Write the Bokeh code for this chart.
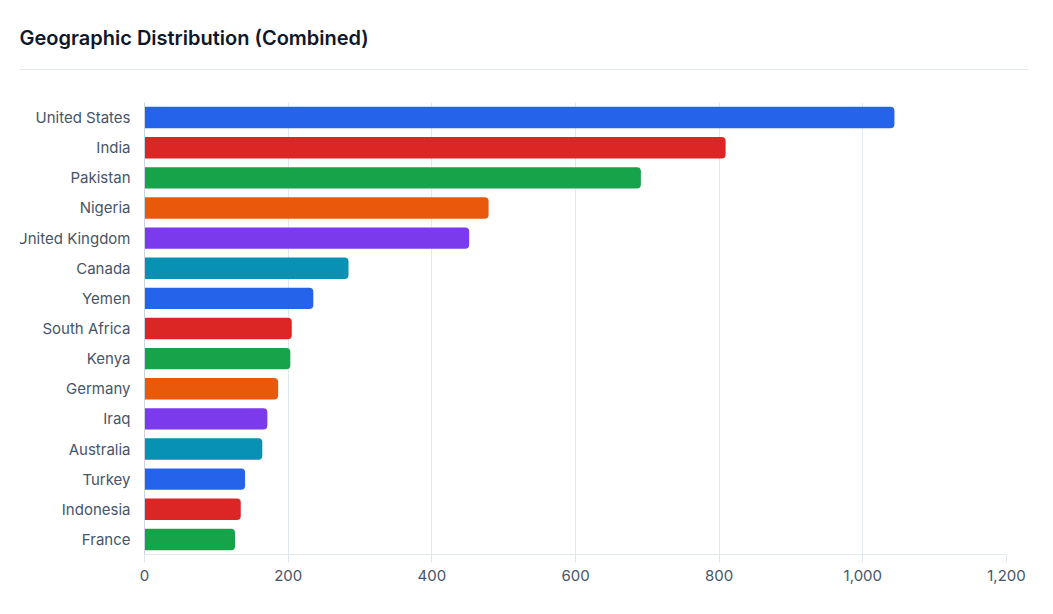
from bokeh.plotting import figure
from bokeh.layouts import column
from bokeh.embed import file_html
from bokeh.resources import INLINE
from bokeh.models import ColumnDataSource, Div, FactorRange, NumeralTickFormatter, Range1d, Title, FixedTicker

countries = ["United States", "India", "Pakistan", "Nigeria", "United Kingdom", "Canada", "Yemen",
             "South Africa", "Kenya", "Germany", "Iraq", "Australia", "Turkey", "Indonesia", "France"]
values = [1044, 809, 691, 479, 452, 284, 235, 205, 203, 186, 171, 164, 140, 134, 126]
palette = ["#2563eb", "#dc2626", "#16a34a", "#ea580c", "#7c3aed", "#0891b2"]
colors = [palette[i % len(palette)] for i in range(len(countries))]
x_ticks = [0, 200, 400, 600, 800, 1000, 1200]
chart_title = "Geographic Distribution (Combined)"

source = ColumnDataSource(dict(country=countries, value=values, color=colors))

p = figure(
    width=1021, height=598, margin=(0, 0, 0, 7),
    y_range=FactorRange(factors=countries[::-1], range_padding=0, factor_padding=0),
    x_range=Range1d(0, 1200),
    output_backend="svg", toolbar_location=None,
    min_border_left=137, min_border_right=22, min_border_top=102, min_border_bottom=44,
    styles={"clip-path": "inset(0 0 0 13px)"},
)
p.outline_line_color = None
p.background_fill_color = "#ffffff"
p.border_fill_color = "#ffffff"

p.hbar(y="country", right="value", left=0, height=0.71, color="color", source=source,
       line_color=None, border_radius=(0, 4, 4, 0))

t = Title(text=chart_title, text_font="Inter SemiBold", text_font_size="20px", text_font_style="normal",
          text_color="#0f172a", align="left", offset=-125, standoff=10, vertical_align="top",
          padding=(0, 0, 0, 46))
p.add_layout(t, "above")

xa = p.xaxis[0]
xa.ticker = FixedTicker(ticks=x_ticks)
xa.formatter = NumeralTickFormatter(format="0,0")
xa.axis_line_color = "#e2e8f0"
xa.major_tick_line_color = "#e2e8f0"
xa.major_tick_out = 8
xa.major_tick_in = 0
xa.minor_tick_line_color = None
xa.major_label_text_font = "Inter"
xa.major_label_text_font_size = "15px"
xa.major_label_text_color = "#475569"
xa.major_label_standoff = 7

ya = p.yaxis[0]
ya.axis_line_color = "#cbd5e1"
ya.major_tick_line_color = None
ya.major_tick_out = 0
ya.major_tick_in = 0
ya.minor_tick_line_color = None
ya.major_label_text_font = "Inter"
ya.major_label_text_font_size = "15px"
ya.major_label_text_color = "#475569"
ya.major_label_standoff = 14

p.ygrid.grid_line_color = None
p.xgrid.grid_line_color = "#e2e8f0"
p.xgrid.ticker = FixedTicker(ticks=x_ticks)

# header rule, lifted back over the figure's top band
rule = Div(text="", width=1008, height=1, margin=(-529, 0, 0, 20),
           styles={"background-color": "#e2e8f0"})

open("out.html", "w").write(file_html(column(p, rule), INLINE))
